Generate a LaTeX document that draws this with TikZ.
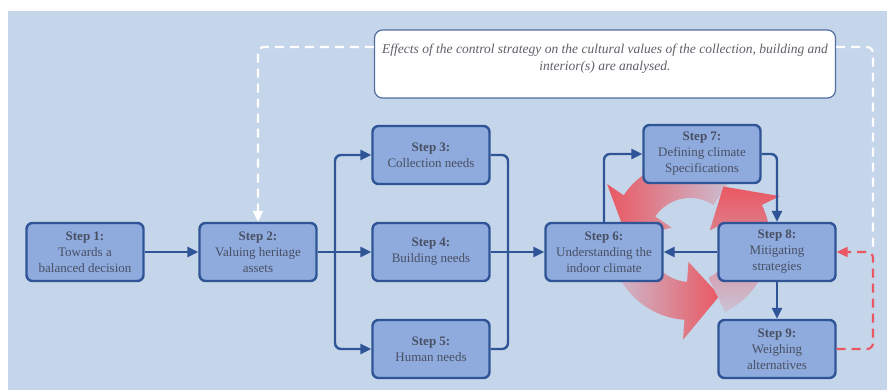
\documentclass[tikz,border=0pt]{standalone}
\usepackage{fontspec}
\setmainfont{Liberation Serif}
\usetikzlibrary{arrows.meta}

\definecolor{panelBlue}{RGB}{197,213,234}
\definecolor{boxBlue}{RGB}{143,170,220}
\definecolor{edgeBlue}{RGB}{47,85,151}
\definecolor{stepGray}{RGB}{72,80,100}
\definecolor{cycleRed}{RGB}{233,88,98}
\definecolor{noteGray}{RGB}{95,95,105}
\definecolor{noteEdge}{RGB}{80,110,160}

\begin{document}
\begin{tikzpicture}[x=1pt,y=1pt,->,>={Triangle[length=11pt,width=10pt]},node distance=173pt,
  stepbox/.style={draw=edgeBlue,fill=boxBlue,line width=2.4pt,rounded corners=6pt,minimum width=117pt,minimum height=58pt,inner sep=2pt,align=center,text=stepGray,font=\fontsize{13}{16}\selectfont},
  notebox/.style={draw=noteEdge,fill=white,line width=1.2pt,rounded corners=8pt,minimum width=461pt,minimum height=68pt,align=center,text=noteGray,font=\fontsize{13.5}{17}\selectfont\itshape},
  link/.style={draw=edgeBlue,line width=2.4pt,rounded corners=6pt},
  feedback/.style={line width=2.2pt,dash pattern=on 9pt off 6pt,rounded corners=6pt}]

    \useasboundingbox (0,0) rectangle (887,390);
    \fill[panelBlue] (8,0) rectangle (887,379);

    % cycle of red arrows behind steps 6 to 9
    \begin{scope}[shift={(690,150)}]
        \shade[left color=cycleRed,right color=cycleRed!15!panelBlue]
            (56:80) arc[start angle=56,end angle=146,radius=80] -- (146:100) -- (178:63) -- (146:22) -- (146:42)
            arc[start angle=146,end angle=56,radius=42] -- cycle;
        \shade[left color=cycleRed!15!panelBlue,right color=cycleRed]
            (176:80) arc[start angle=176,end angle=266,radius=80] -- (266:100) -- (298:63) -- (266:22) -- (266:42)
            arc[start angle=266,end angle=176,radius=42] -- cycle;
        \shade[bottom color=cycleRed!15!panelBlue,top color=cycleRed]
            (296:80) arc[start angle=296,end angle=386,radius=80] -- (26:100) -- (58:63) -- (26:22) -- (26:42)
            arc[start angle=386,end angle=296,radius=42] -- cycle;
    \end{scope}

    \node[stepbox] (s_1) at (85,138) {\textbf{Step 1:}\\Towards a\\balanced decision};
    \node[stepbox] (s_2) [right of=s_1] {\textbf{Step 2:}\\Valuing heritage\\assets};
    \node[stepbox] (s_4) [right of=s_2] {\textbf{Step 4:}\\Building needs};
    \node[stepbox] (s_3) [above of=s_4,node distance=97pt] {\textbf{Step 3:}\\Collection needs};
    \node[stepbox] (s_5) [below of=s_4,node distance=97pt] {\textbf{Step 5:}\\Human needs};
    \node[stepbox] (s_6) [right of=s_4] {\textbf{Step 6:}\\Understanding the\\indoor climate};
    \node[stepbox] (s_8) [right of=s_6] {\textbf{Step 8:}\\Mitigating\\strategies};
    \node[stepbox] (s_7) at (702,236) {\textbf{Step 7:}\\Defining climate\\Specifications};
    \node[stepbox] (s_9) [below of=s_8,node distance=97pt] {\textbf{Step 9:}\\Weighing\\alternatives};
    \node[notebox] (note) at (605,326) {Effects of the control strategy on the cultural values of the collection, building and\\interior(s) are analysed.\\[-3pt]\mbox{}};

    \coordinate (split) at (335,138);
    \coordinate (merge) at (508,138);
    \coordinate (loop) at (873,138);

    \draw[link] (s_1) -- (s_2);
    \draw[link] (s_2) -- (s_4);
    \draw[link] (split) |- (s_3);
    \draw[link] (split) |- (s_5);
    \draw[link,-] (s_3) -| (merge);
    \draw[link,-] (s_5) -| (merge);
    \draw[link] (s_4) -- (s_6);
    \draw[link] (s_6) |- (s_7);
    \draw[link] (s_7) -| (s_8);
    \draw[link] (s_8) -- (s_6);
    \draw[link] (s_8) -- (s_9);

    \draw[feedback,white] ([yshift=17pt]note.west) -| (s_2);
    \draw[feedback,white,-] ([yshift=17pt]note.east) -| (loop);
    \draw[feedback,cycleRed] (s_9) -| (loop) -- (s_8);

\end{tikzpicture}
\end{document}
